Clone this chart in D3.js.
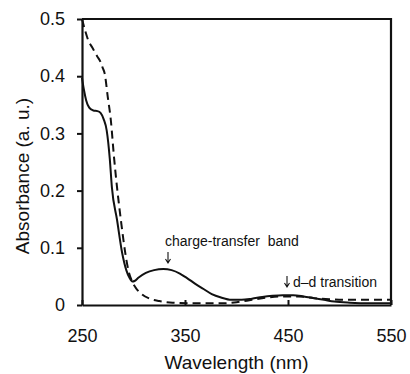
<!DOCTYPE html>
<html>
<head>
<meta charset="utf-8">
<script src="https://cdn.jsdelivr.net/npm/d3@7"></script>
<style>
  body { margin: 0; background: #fff; }
  svg { display: block; font-family: "Liberation Sans", Arial, sans-serif; }
</style>
</head>
<body>
<svg></svg>
<script>
  let w = 410;
  let h = 374;

// Data
const xTicks = [250, 350, 450, 550];
const yTicks = [0, 0.1, 0.2, 0.3, 0.4, 0.5];

const solidWl = [250, 252, 254, 257, 261, 265, 268, 271, 274, 277, 279, 284, 289, 293, 296, 299, 301, 305, 312, 320, 329, 337, 345, 352, 360, 368, 376, 385, 395, 405, 415, 425, 435, 445, 455, 465, 475, 485, 495, 510, 530, 550];
const solidAbs = [0.397, 0.375, 0.358, 0.345, 0.340, 0.339, 0.336, 0.325, 0.305, 0.255, 0.206, 0.149, 0.091, 0.061, 0.048, 0.041, 0.042, 0.048, 0.056, 0.061, 0.063, 0.061, 0.055, 0.047, 0.037, 0.028, 0.019, 0.013, 0.009, 0.009, 0.011, 0.014, 0.016, 0.017, 0.017, 0.015, 0.012, 0.009, 0.006, 0.004, 0.003, 0.003];

const dashWl = [250, 253, 256, 260, 265, 268, 270, 272, 275, 278, 281, 284, 288, 292, 295, 299, 303, 308, 316, 325, 338, 360, 387, 400, 415, 430, 445, 460, 475, 490, 510, 530, 550];
const dashAbs = [0.500, 0.480, 0.463, 0.450, 0.434, 0.425, 0.415, 0.405, 0.364, 0.323, 0.260, 0.206, 0.145, 0.091, 0.061, 0.040, 0.028, 0.019, 0.011, 0.007, 0.004, 0.003, 0.003, 0.005, 0.009, 0.013, 0.015, 0.015, 0.012, 0.010, 0.009, 0.009, 0.009];

const svg = d3.select('svg')
  .attr('width', w)
  .attr('height', h)

// Scales
const xScale = d3.scaleLinear()
  .domain([250, 550])
  .range([82, 391])

const yScale = d3.scaleLinear()
  .domain([0, 0.5])
  .range([305, 19])

// Axes
const xAxis = d3.axisBottom(xScale)
  .tickValues(xTicks)
  .tickSizeInner(-5)
  .tickSizeOuter(0)
  .tickPadding(24)
  .tickFormat(d3.format('d'))

const yAxis = d3.axisLeft(yScale)
  .tickValues(yTicks)
  .tickSizeInner(5)
  .tickSizeOuter(0)
  .tickPadding(12)
  .tickFormat(d => d === 0 ? '0' : d3.format('.1f')(d))

svg.append('g')
  .attr('id', 'x-axis')
  .attr('transform', 'translate(0,305)')
  .call(xAxis)

svg.append('g')
  .attr('id', 'y-axis')
  .attr('transform', 'translate(82,0)')
  .call(yAxis)

svg.selectAll('.tick text')
  .attr('font-size', 18)
  .attr('fill', '#111')
  .attr('font-family', '"Liberation Sans", Arial, sans-serif')

svg.selectAll('.tick line')
  .attr('stroke', '#111')
  .attr('stroke-width', 2)

svg.selectAll('.domain')
  .attr('stroke', '#111')
  .attr('stroke-width', 2.2)

// Frame top and right
svg.append('path')
  .attr('d', `M${xScale(250)},${yScale(0.5)}H${xScale(550)}V${yScale(0)}`)
  .attr('fill', 'none')
  .attr('stroke', '#111')
  .attr('stroke-width', 2.2)

// Curves
const line = d3.line()
  .x(d => xScale(d[0]))
  .y(d => yScale(d[1]))
  .curve(d3.curveMonotoneX)

svg.append('path')
  .datum(d3.zip(dashWl, dashAbs))
  .attr('d', line)
  .attr('fill', 'none')
  .attr('stroke', '#111')
  .attr('stroke-width', 2)
  .attr('stroke-dasharray', '8,5')

svg.append('path')
  .datum(d3.zip(solidWl, solidAbs))
  .attr('d', line)
  .attr('fill', 'none')
  .attr('stroke', '#111')
  .attr('stroke-width', 2)

// Annotations
function arrow(x, y0, y1) {
  svg.append('path')
    .attr('d', `M${x},${y0}V${y1}M${x - 2.5},${y1 - 4}L${x},${y1}L${x + 2.5},${y1 - 4}`)
    .attr('fill', 'none')
    .attr('stroke', '#111')
    .attr('stroke-width', 1.1)
}

svg.append('text')
  .attr('x', 165)
  .attr('y', 246)
  .attr('font-size', 14)
  .attr('fill', '#111')
  .style('white-space', 'pre')
  .text('charge-transfer  band')
arrow(168, 252, 263)

svg.append('text')
  .attr('x', 293)
  .attr('y', 287)
  .attr('font-size', 14)
  .attr('fill', '#111')
  .text('d–d transition')
arrow(287, 276, 287)

// Axis titles
svg.append('text')
  .attr('x', xScale(400))
  .attr('y', 369)
  .attr('text-anchor', 'middle')
  .attr('font-size', 19)
  .attr('fill', '#111')
  .text('Wavelength (nm)')

svg.append('text')
  .attr('transform', 'translate(29,176) rotate(-90)')
  .attr('text-anchor', 'middle')
  .attr('font-size', 19)
  .attr('fill', '#111')
  .text('Absorbance (a. u.)')
</script>
</body>
</html>
